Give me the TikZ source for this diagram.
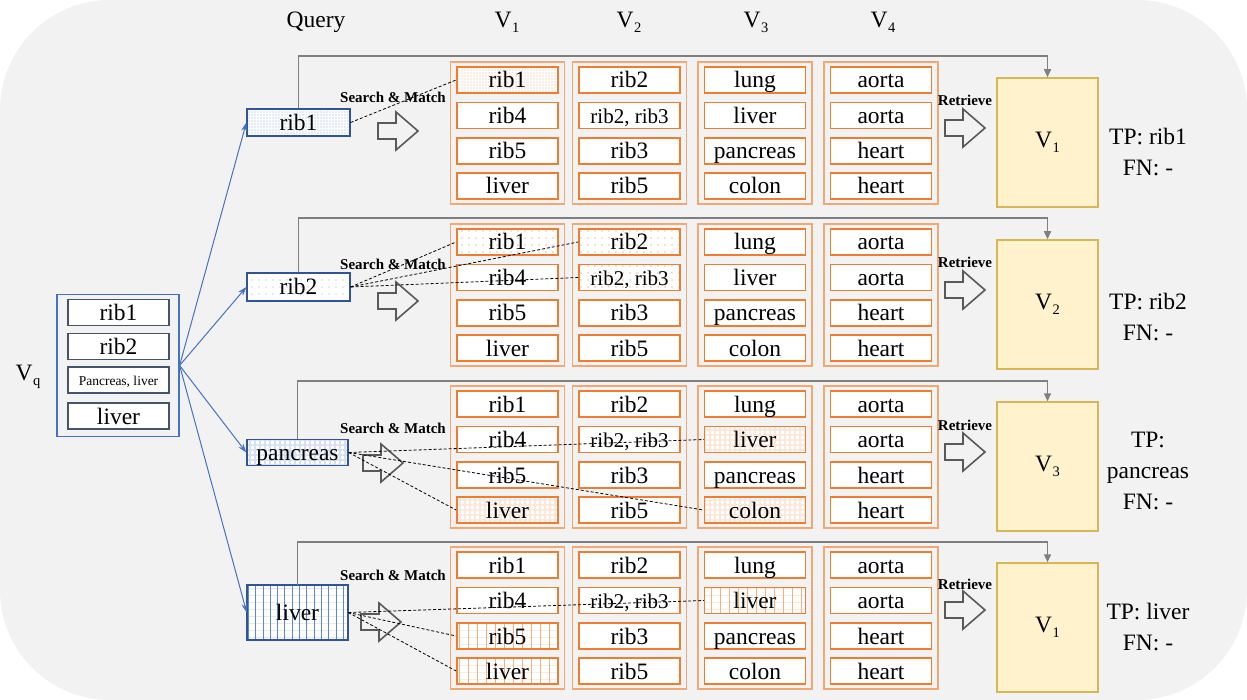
\documentclass[tikz,border=0pt]{standalone}
\usepackage{fontspec}
\setmainfont{Liberation Serif}
\usetikzlibrary{arrows.meta,patterns.meta,calc}
\definecolor{bgc}{HTML}{F2F2F2}
\definecolor{org}{HTML}{ED7D31}
\definecolor{orgl}{HTML}{F4B183}
\definecolor{orgp}{HTML}{F8CBAD}
\definecolor{blu}{HTML}{4472C4}
\definecolor{blul}{HTML}{8FAADC}
\definecolor{blup}{HTML}{B4C7E7}
\definecolor{dblu}{HTML}{2F5597}
\definecolor{gbox}{HTML}{44546A}
\definecolor{gry}{HTML}{7F7F7F}
\definecolor{dgry}{HTML}{595959}
\definecolor{ylw}{HTML}{FFF2CC}
\definecolor{gold}{HTML}{D6B656}
\newcommand{\Vs}[1]{V\kern0.5pt\raisebox{-0.45ex}{\fontsize{14.5}{15}\selectfont #1}}
\newcommand{\ribtt}{{\fontsize{21}{22}\selectfont rib2, rib3}}
\begin{document}
\begin{tikzpicture}[x=1pt,y=-1pt,font=\fontsize{23.5}{26}\selectfont,
  cell/.style={draw=org,line width=1.8pt,preaction={fill=white},minimum width=101pt,minimum height=26pt,inner sep=0pt,text height=18pt,text depth=2pt},
  grp/.style={draw=orgl!80!org,line width=1.3pt,minimum width=114pt,minimum height=142pt,inner sep=0pt},
  qbox/.style={draw=dblu,line width=1.2pt,preaction={fill=white},inner sep=0pt,text height=18pt,text depth=2pt},
  vqin/.style={draw=gbox,line width=1.4pt,fill=white,minimum width=101pt,minimum height=26pt,inner sep=0pt,text height=18pt,text depth=2pt},
  vqout/.style={draw=blu,line width=1.2pt,minimum width=122pt,minimum height=142pt,inner sep=0pt},
  ret/.style={fill=ylw,draw=gold,line width=1.5pt,minimum width=101pt,minimum height=129pt,inner sep=0pt},
  hollow/.style={draw=dgry,line width=1.6pt,fill=bgc,line join=miter},
  flow/.style={draw=gry,line width=1.5pt,-{Triangle[length=8pt,width=7pt]}},
  qarrow/.style={draw=blu,line width=1pt,-{Stealth[length=9pt,width=6pt]}},
  match/.style={draw=black,line width=0.8pt,dash pattern=on 3pt off 2pt},
  lbl/.style={font=\fontsize{15}{17}\selectfont\bfseries,inner sep=0pt},
  res/.style={align=center,font=\fontsize{23.5}{31}\selectfont,inner sep=0pt},
  odense/.style={pattern={Dots[distance=3pt,radius=0.65pt]},pattern color=orgl},
  osparse/.style={pattern={Dots[distance=7pt,radius=0.7pt]},pattern color=org},
  ochk/.style={pattern={Hatch[distance=5pt,line width=1.2pt]},pattern color=orgp!45},
  ovl/.style={preaction={pattern={Lines[angle=0,distance=7pt,line width=0.3pt]},pattern color=orgp!40},pattern={Lines[angle=90,distance=9pt,line width=0.6pt]},pattern color=orgl},
  bdense/.style={pattern={Dots[distance=3pt,radius=0.7pt]},pattern color=blul},
  bsparse/.style={pattern={Dots[distance=7pt,radius=0.7pt]},pattern color=blul},
  bchk/.style={pattern={Hatch[distance=5pt,line width=1.4pt]},pattern color=blup!55},
  bvl/.style={preaction={pattern={Lines[angle=0,distance=7pt,line width=0.3pt]},pattern color=blup!40},pattern={Lines[angle=90,distance=7.3pt,line width=0.55pt]},pattern color=blu!85},
  hl-1-1-1/.style={odense},
  hl-2-1-1/.style={osparse},hl-2-2-1/.style={osparse},hl-2-2-2/.style={osparse},
  hl-3-1-4/.style={ochk},hl-3-3-2/.style={ochk},hl-3-3-4/.style={ochk},
  hl-4-1-3/.style={ovl},hl-4-1-4/.style={ovl},hl-4-3-2/.style={ovl},
  harrow/.pic={\draw[hollow] (-20,-8) -- (-2,-8) -- (-2,-19) -- (20,0) -- (-2,19) -- (-2,8) -- (-20,8) -- cycle;}
]
\useasboundingbox (0,0) rectangle (1247,700);
\fill[bgc,rounded corners=110pt] (0,0) rectangle (1247,700);

% headers
\node (hq) at (316,22) {Query};
\node (h1) at (507,22) {\Vs{1}};
\node (h2) at (629,22) {\Vs{2}};
\node (h3) at (756,22) {\Vs{3}};
\node (h4) at (883,22) {\Vs{4}};

% Vq
\node (vql) at (28,377) {\Vs{q}};
\node[vqout] (vq) at (118,365.5) {};
\node[vqin] (vq1) at (118.5,312.5) {rib1};
\node[vqin] (vq2) at (118.5,346.5) {rib2};
\node[vqin,font=\fontsize{13.5}{15}\selectfont,text height=11pt,text depth=1pt] (vq3) at (118.5,380) {Pancreas, liver};
\node[vqin] (vq4) at (118.5,416) {liver};

% groups and cells
\foreach \r/\ry in {1/62,2/224,3/386,4/547}{
  \foreach \c/\cx in {1/507.5,2/629.5,3/755,4/881}
    \node[grp] (g-\r-\c) at (\cx,\ry+71) {};
  \foreach \k/\dy/\ta/\tb/\tc/\td in {1/18/rib1/rib2/lung/aorta,2/53.5/rib4/\ribtt/liver/aorta,3/89/rib5/rib3/pancreas/heart,4/124/liver/rib5/colon/heart}{
    \node[cell,hl-\r-1-\k/.try] (b-\r-1-\k) at (507.5,\ry+\dy) {\ta};
    \node[cell,hl-\r-2-\k/.try] (b-\r-2-\k) at (629.5,\ry+\dy) {\tb};
    \node[cell,hl-\r-3-\k/.try] (b-\r-3-\k) at (755,\ry+\dy) {\tc};
    \node[cell,hl-\r-4-\k/.try] (b-\r-4-\k) at (881,\ry+\dy) {\td};
  }
}

% query boxes
\node[qbox,bdense,minimum width=103pt,minimum height=27pt] (q1) at (298.5,122.5) {rib1};
\node[qbox,bsparse,minimum width=103pt,minimum height=28pt] (q2) at (298.5,287) {rib2};
\node[qbox,bchk,minimum width=101pt,minimum height=26pt] (q3) at (297.5,452.5) {pancreas};
\node[qbox,bvl,minimum width=101pt,minimum height=55pt] (q4) at (297.5,612.5) {liver};

% retrieved boxes
\node[ret] (r1) at (1047.5,142.5) {\Vs{1}};
\node[ret] (r2) at (1047.5,304.5) {\Vs{2}};
\node[ret] (r3) at (1047.5,466.5) {\Vs{3}};
\node[ret] (r4) at (1047.5,627.5) {\Vs{1}};

% flow lines
\draw[flow] (q1.north) -- (q1.north |- 0,56) -| (r1.north);
\draw[flow] (q2.north) -- (q2.north |- 0,218) -| (r2.north);
\draw[flow] (q3.north) -- (q3.north |- 0,381) -| (r3.north);
\draw[flow] (q4.north) -- (q4.north |- 0,542) -| (r4.north);

% query arrows
\foreach \q in {q1,q2,q3,q4}
  \draw[qarrow] (vq.east) -- (\q.west);

% hollow arrows
\pic at (398,131) {harrow};
\pic at (398,301) {harrow};
\pic at (383,463) {harrow};
\pic at (381,622) {harrow};
\pic at (965,128) {harrow};
\pic at (965,290) {harrow};
\pic at (965,452) {harrow};
\pic at (965,610) {harrow};

% labels
\node[lbl] (sm1) at (393,97) {Search \& Match};
\node[lbl] (sm2) at (393,264) {Search \& Match};
\node[lbl] (sm3) at (393,428) {Search \& Match};
\node[lbl] (sm4) at (393,575) {Search \& Match};
\node[lbl] (rt1) at (965,100) {Retrieve};
\node[lbl] (rt2) at (965,262) {Retrieve};
\node[lbl] (rt3) at (965,425) {Retrieve};
\node[lbl] (rt4) at (965,584) {Retrieve};

% matches
\draw[match] (q1.east) -- (b-1-1-1.west);
\draw[match] (q2.east) -- (b-2-1-1.west);
\draw[match] (q2.east) -- (b-2-2-1.west);
\draw[match] (q2.east) -- (b-2-2-2.west);
\draw[match] (q3.east) -- (b-3-3-2.west);
\draw[match] (q3.east) -- (b-3-3-4.west);
\draw[match] (q3.east) -- (b-3-1-4.west);
\draw[match] (q4.east) -- (b-4-3-2.west);
\draw[match] (q4.east) -- (b-4-1-3.west);
\draw[match] (q4.east) -- (b-4-1-4.west);

% results
\node[res] (t1) at (1148,152) {TP: rib1\\FN: -};
\node[res] (t2) at (1148,317) {TP: rib2\\FN: -};
\node[res] (t3) at (1148,471) {TP:\\pancreas\\FN: -};
\node[res] (t4) at (1148,627) {TP: liver\\FN: -};
\end{tikzpicture}
\end{document}
